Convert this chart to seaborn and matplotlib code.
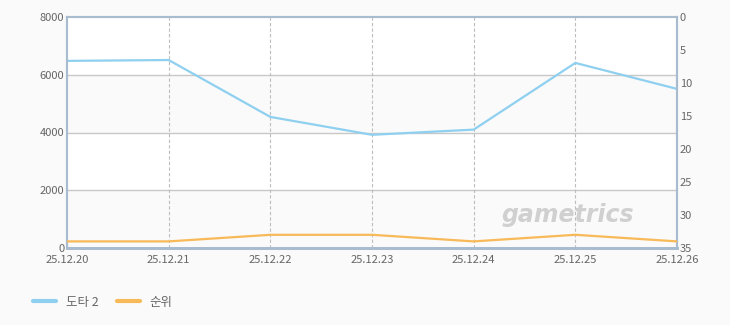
import matplotlib
matplotlib.use("Agg")
import matplotlib.pyplot as plt
from matplotlib.lines import Line2D
import seaborn as sns
import pandas as pd

dates = ["25.12.20", "25.12.21", "25.12.22", "25.12.23", "25.12.24", "25.12.25", "25.12.26"]
players = [6480, 6510, 4540, 3920, 4100, 6410, 5510]
rank = [34, 34, 33, 33, 34, 33, 34]
left_ticks = [0, 2000, 4000, 6000, 8000]
right_ticks = [0, 5, 10, 15, 20, 25, 30, 35]

sns.set_theme(style="white")
plt.rcParams['font.family'] = ['Noto Sans CJK KR', 'DejaVu Sans']

df = pd.DataFrame({"date": dates, "x": range(len(dates)), "players": players, "rank": rank})

fig = plt.figure(figsize=(7.3, 3.25), dpi=100)
fig.patch.set_facecolor("#fafafa")
ax = fig.add_axes([67/730, 1-248/325, 610/730, 231/325])
ax.set_facecolor("white")

# alternating bands
for i, (lo, hi) in enumerate(zip(left_ticks[:-1], left_ticks[1:])):
    if i % 2 == 0:
        ax.axhspan(lo, hi, color="#fafafa", zorder=0, lw=0)

blue = "#8fd0f0"
orange = "#f8b958"
sns.lineplot(data=df, x="x", y="players", ax=ax, color=blue, lw=1.6, zorder=5)
ax.set_ylim(0, 8000)
ax.set_xlim(0, len(dates)-1)
ax.set_yticks(left_ticks)
ax.set_xticks(range(len(dates)))
ax.set_xticklabels(dates)
ax.set_xlabel("")
ax.set_ylabel("")
for y in left_ticks[1:-1]:
    ax.axhline(y, color="#c8c8c8", lw=1, zorder=1)
for x in range(1, len(dates)-1):
    ax.axvline(x, color="#bdbdbd", lw=0.8, ls=(0, (3, 2)), zorder=1)

ax2 = ax.twinx()
sns.lineplot(data=df, x="x", y="rank", ax=ax2, color=orange, lw=1.6, zorder=5)
ax2.set_ylim(35, 0)
ax2.set_yticks(right_ticks)
ax2.set_ylabel("")
ax2.set_xlim(0, len(dates)-1)

spine_c = "#a9bccf"
for a in (ax, ax2):
    for s in a.spines.values():
        s.set_color(spine_c)
        s.set_linewidth(1.5)
    a.spines["bottom"].set_linewidth(2)
    a.tick_params(axis="y", labelsize=8, colors="#666666", length=0, pad=2)
ax.tick_params(axis="x", labelsize=8, colors="#666666", length=0, pad=5)

ax.text(0.93, 0.09, "gametrics", transform=ax.transAxes, ha="right", va="bottom",
        fontsize=17, fontstyle="italic", fontweight="bold", color="#d0d0d0",
        family="DejaVu Sans", zorder=2)

handles = [Line2D([0], [0], color=blue, lw=3), Line2D([0], [0], color=orange, lw=3)]
fig.legend(handles, ["도타 2", "순위"], loc="lower left", bbox_to_anchor=(22/730, 5/325),
           ncol=2, frameon=False, fontsize=9, handlelength=1.8, columnspacing=1.5,
           labelcolor="#666666")

fig.savefig("out.png", dpi=100, facecolor=fig.get_facecolor())
